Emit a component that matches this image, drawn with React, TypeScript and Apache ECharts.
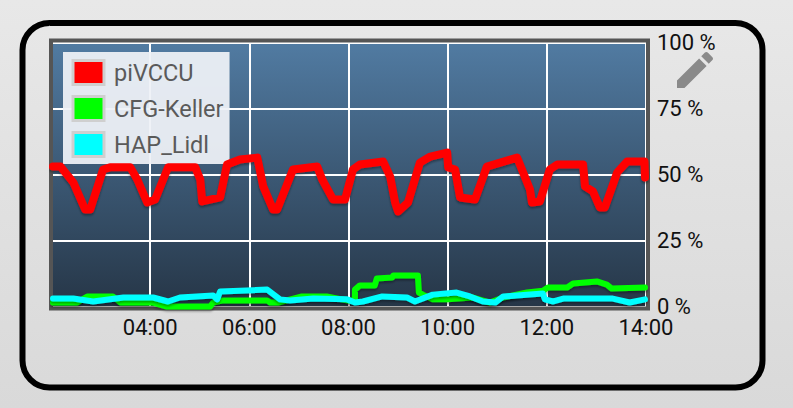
import React, { useEffect, useRef } from "react";
import * as echarts from "echarts";

const hourTicks = [4, 6, 8, 10, 12, 14];
const pctTicks = [0, 25, 50, 75, 100];

const redHours = [2.04,2.19,2.45,2.69,2.79,3.05,3.19,3.6,3.74,3.94,4.1,4.36,4.91,5.01,5.05,5.41,5.55,5.81,6.16,6.28,6.48,6.56,6.88,7.37,7.47,7.69,7.93,8.09,8.23,8.7,8.84,8.94,9,9.2,9.44,9.65,9.99,10.01,10.15,10.25,10.55,10.79,11.4,11.66,11.7,11.86,12.06,12.21,12.73,12.77,12.93,13.07,13.17,13.42,13.62,13.97,13.98];
const redValues = [53,53,47,36.7,36.7,51.9,52.7,52.7,48.1,39.4,40.5,52.7,52.7,48.1,39.8,41.3,53.8,55.7,56.4,45.5,36.7,36.7,51.9,53,48.1,40.5,40.5,51.9,53.8,54.9,49.2,39.4,36,39.4,54.5,56.8,58.3,52.7,51.9,41.3,40.5,53,56.4,44.3,39.4,39.8,51.9,53.8,53.8,45.5,43.6,37.5,37.5,50.8,54.9,54.9,48.9];

const greenHours = [2.04,2.53,2.73,3.25,3.4,4.06,4.34,5.21,5.27,5.47,6.36,6.42,6.58,7.06,7.56,7.97,8.13,8.13,8.23,8.53,8.57,8.88,8.9,9.4,9.42,9.5,9.7,9.99,10.51,10.85,11.12,11.6,11.92,12.02,12.41,12.53,13.01,13.21,13.31,13.98];
const greenValues = [1.5,1.5,3.8,3.8,1.5,1.5,0,0,1.5,2.3,2.3,1.5,1.5,3.8,3.8,2.3,2.3,6.4,8,8,10.6,11,11.7,11.7,5.3,4.5,2.7,2.7,3.4,1.5,3.4,5.3,6,7.2,7.2,8.7,9.5,8.3,6.8,7.2];

const cyanHours = [2.04,2.45,2.85,3.46,4.06,4.36,4.6,5.27,5.35,5.41,5.81,6.36,6.62,6.82,7.29,7.97,8.13,8.29,8.68,9.18,9.34,9.7,10.18,10.45,10.71,10.96,11.12,11.92,11.96,12.13,12.33,13.33,13.67,13.98];
const cyanValues = [3,3,1.9,3.4,3.4,1.9,3.4,4.2,2.7,5.7,6,6.4,2.7,2.3,3,2.7,1.5,1.9,3.8,3.4,1.9,4.5,5.3,3.8,1.9,1.5,3.8,4.9,2.7,1.9,3,3,1.5,2.7];

const zip = (xs: number[], ys: number[]) => xs.map((x, i) => [x, ys[i]]);
const PENCIL = "M3 17.25V21h3.75L17.81 9.94l-3.75-3.75L3 17.25zM20.71 7.04c.39-.39.39-1.02 0-1.41l-2.34-2.34c-.39-.39-1.02-.39-1.41 0l-1.83 1.83 3.75 3.75 1.83-1.83z";
echarts.graphic.registerShape("pencil", echarts.graphic.extendPath(PENCIL, {}));

const lineSeries = (name: string, color: string, width: number, data: number[][], z: number) => ({
  name, type: "line", data, z, symbol: "none", clip: false, color,
  lineStyle: { color, width, join: "round", cap: "round", shadowColor: "rgba(0,0,0,0.35)", shadowBlur: 2, shadowOffsetY: 2 },
  itemStyle: { color },
});

export default function App() {
  const ref = useRef<HTMLDivElement>(null);
  useEffect(() => {
    document.body.style.margin = "0";
    const chart = echarts.init(ref.current!, null, { renderer: "svg" });
    chart.setOption({
      animation: false,
      backgroundColor: new echarts.graphic.LinearGradient(0, 0, 0, 1, [
        { offset: 0, color: "#e8e8e8" }, { offset: 1, color: "#d9d9d9" },
      ]),
      grid: {
        show: true, left: 53, top: 42.5, width: 593, height: 264, borderWidth: 0,
        backgroundColor: new echarts.graphic.LinearGradient(0, 0, 0, 1, [
          { offset: 0, color: "#517ba2" }, { offset: 1, color: "#263647" },
        ]),
      },
      legend: {
        left: 63, top: 52, orient: "vertical", padding: [7, 6, 6, 8.5], itemGap: 9,
        itemWidth: 31, itemHeight: 24, icon: "rect",
        backgroundColor: "rgba(238,241,246,0.94)",
        itemStyle: { borderColor: "#cfcfcf", borderWidth: 3 },
        textStyle: { fontFamily: "Roboto", fontSize: 23.5, color: "#5a5a5a", padding: [0, 0, 0, 5] },
        data: ["piVCCU", "CFG-Keller", "HAP_Lidl"],
      },
      xAxis: {
        type: "value", min: 2.04, max: 14,
        axisLine: { show: false },
        axisTick: { show: false, customValues: hourTicks },
        axisLabel: {
          customValues: hourTicks, margin: 10, fontFamily: "Roboto", fontSize: 22, color: "#111",
          showMaxLabel: true,
          formatter: (v: number) => `${String(v).padStart(2, "0")}:00`,
        },
        splitLine: { show: true, lineStyle: { color: "#fff", width: 2 } },
      },
      yAxis: {
        type: "value", position: "right", min: 0, max: 100, interval: 25,
        axisLine: { show: false }, axisTick: { show: false },
        axisLabel: {
          margin: 11, fontFamily: "Roboto", fontSize: 22, color: "#111", lineHeight: 20,
          formatter: (v: number) => (pctTicks.includes(v) ? `${v} %` : ""),
        },
        splitLine: { show: true, lineStyle: { color: "#fff", width: 2 } },
      },
      graphic: [
        { type: "rect", z: -1, silent: true, shape: { x: 22.5, y: 23, width: 740, height: 364.5, r: 27 },
          style: { fill: "none", stroke: "#000", lineWidth: 6 } },
        { type: "rect", z: 1, silent: true, shape: { x: 51, y: 40.5, width: 597, height: 268 },
          style: { fill: "none", stroke: "#555", lineWidth: 4 } },
        { type: "pencil", x: 671, y: 46, scaleX: 2, scaleY: 2, z: 1, silent: true, style: { fill: "#8a8a8a" } },
      ],
      series: [
        lineSeries("piVCCU", "#ff0000", 8, zip(redHours, redValues), 4),
        lineSeries("CFG-Keller", "#00ff00", 6, zip(greenHours, greenValues), 2),
        lineSeries("HAP_Lidl", "#00ffff", 6, zip(cyanHours, cyanValues), 3),
      ],
    });
    return () => chart.dispose();
  }, []);
  return <div ref={ref} style={{ width: 793, height: 408 }} />;
}
